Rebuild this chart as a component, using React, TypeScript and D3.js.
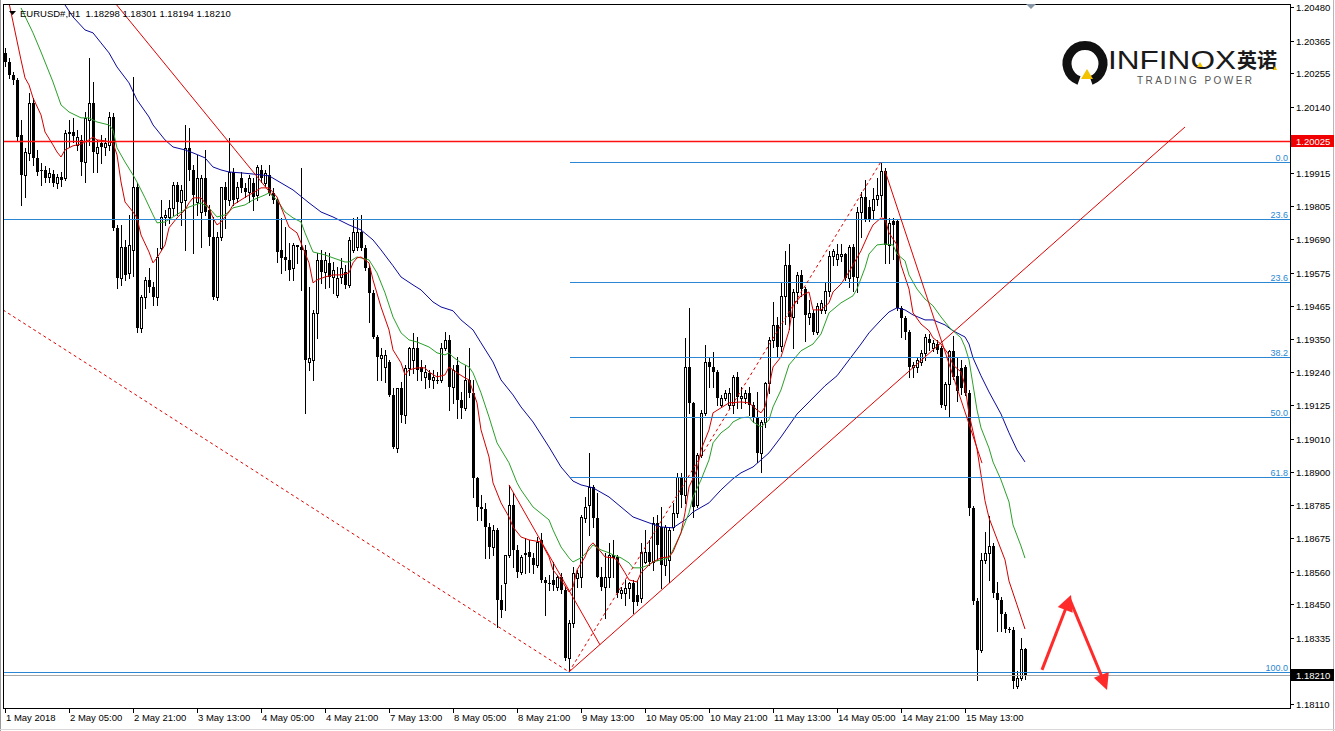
import { scaleLinear, line } from 'd3';

const W = 1335;
const H = 731;
const FONT = "'Liberation Sans', Arial, sans-serif";

// hourly bars, 1 May 13:00 .. 16 May 04:00  [open, high, low, close]
const CANDLES: [number, number, number, number][] = [
  [1.20324, 1.20341, 1.20280, 1.20293], [1.20293, 1.20307, 1.20239, 1.20249], [1.20249, 1.20259, 1.20218, 1.20232],
  [1.20232, 1.20239, 1.20028, 1.20038], [1.20045, 1.20096, 1.19807, 1.19909], [1.19909, 1.20001, 1.19834, 1.19987],
  [1.19984, 1.20188, 1.19960, 1.20154], [1.20154, 1.20171, 1.19943, 1.19967], [1.19967, 1.19994, 1.19909, 1.19919],
  [1.19926, 1.19950, 1.19875, 1.19923], [1.19926, 1.19940, 1.19885, 1.19899], [1.19902, 1.19933, 1.19885, 1.19916],
  [1.19912, 1.19926, 1.19872, 1.19882], [1.19882, 1.19912, 1.19865, 1.19902], [1.19902, 1.19919, 1.19872, 1.19892],
  [1.19899, 1.20062, 1.19892, 1.20052], [1.20052, 1.20096, 1.20004, 1.20055], [1.20055, 1.20103, 1.20021, 1.20042],
  [1.20011, 1.20062, 1.19994, 1.20038], [1.20028, 1.20045, 1.19909, 1.19953], [1.19953, 1.20123, 1.19885, 1.20103],
  [1.20096, 1.20307, 1.20011, 1.20154], [1.20154, 1.20225, 1.19919, 1.19987], [1.19984, 1.20028, 1.19919, 1.20004],
  [1.20018, 1.20045, 1.19950, 1.20004], [1.20004, 1.20035, 1.19977, 1.20018], [1.20011, 1.20123, 1.19994, 1.20106],
  [1.20106, 1.20120, 1.19722, 1.19729], [1.19729, 1.19739, 1.19525, 1.19559], [1.19559, 1.19739, 1.19535, 1.19664],
  [1.19664, 1.19688, 1.19552, 1.19569], [1.19576, 1.19773, 1.19559, 1.19671], [1.19654, 1.20242, 1.19566, 1.19868],
  [1.19868, 1.19882, 1.19375, 1.19389], [1.19389, 1.19501, 1.19375, 1.19494], [1.19494, 1.19562, 1.19457, 1.19552],
  [1.19552, 1.19593, 1.19511, 1.19528], [1.19528, 1.19545, 1.19467, 1.19494], [1.19494, 1.19661, 1.19467, 1.19630],
  [1.19661, 1.19824, 1.19654, 1.19766], [1.19766, 1.19790, 1.19739, 1.19773], [1.19766, 1.19824, 1.19746, 1.19797],
  [1.19797, 1.19885, 1.19773, 1.19875], [1.19875, 1.19885, 1.19773, 1.19817], [1.19817, 1.19875, 1.19739, 1.19858],
  [1.19824, 1.20079, 1.19654, 1.20001], [1.20001, 1.20069, 1.19892, 1.19926], [1.19926, 1.19943, 1.19644, 1.19841],
  [1.19817, 1.19977, 1.19773, 1.19899], [1.19783, 1.19909, 1.19664, 1.19899], [1.19899, 1.19994, 1.19773, 1.19783],
  [1.19790, 1.19807, 1.19671, 1.19698], [1.19698, 1.19766, 1.19487, 1.19494], [1.19494, 1.19715, 1.19484, 1.19698],
  [1.19698, 1.19868, 1.19688, 1.19868], [1.19868, 1.19885, 1.19729, 1.19824], [1.19824, 1.20035, 1.19807, 1.19919],
  [1.19919, 1.19933, 1.19807, 1.19824], [1.19831, 1.19885, 1.19817, 1.19868], [1.19899, 1.19919, 1.19851, 1.19865],
  [1.19865, 1.19882, 1.19834, 1.19851], [1.19851, 1.19909, 1.19817, 1.19899], [1.19882, 1.19899, 1.19790, 1.19834],
  [1.19841, 1.19943, 1.19824, 1.19936], [1.19926, 1.19943, 1.19885, 1.19899], [1.19882, 1.19926, 1.19872, 1.19916],
  [1.19909, 1.19943, 1.19841, 1.19848], [1.19848, 1.19865, 1.19814, 1.19824], [1.19824, 1.19831, 1.19613, 1.19647],
  [1.19654, 1.19763, 1.19576, 1.19627], [1.19630, 1.19732, 1.19586, 1.19620], [1.19620, 1.19678, 1.19552, 1.19586],
  [1.19593, 1.19678, 1.19552, 1.19671], [1.19671, 1.19671, 1.19610, 1.19664], [1.19664, 1.19933, 1.19518, 1.19654],
  [1.19654, 1.19671, 1.19100, 1.19280], [1.19273, 1.19528, 1.19246, 1.19287], [1.19280, 1.19450, 1.19212, 1.19440],
  [1.19440, 1.19644, 1.19355, 1.19620], [1.19620, 1.19654, 1.19542, 1.19579], [1.19579, 1.19647, 1.19525, 1.19620],
  [1.19610, 1.19644, 1.19528, 1.19562], [1.19562, 1.19613, 1.19508, 1.19586], [1.19501, 1.19596, 1.19494, 1.19559],
  [1.19562, 1.19627, 1.19542, 1.19593], [1.19579, 1.19603, 1.19525, 1.19535], [1.19535, 1.19698, 1.19528, 1.19688],
  [1.19654, 1.19763, 1.19647, 1.19715], [1.19664, 1.19766, 1.19654, 1.19715], [1.19715, 1.19773, 1.19654, 1.19661],
  [1.19661, 1.19671, 1.19586, 1.19593], [1.19593, 1.19603, 1.19409, 1.19508], [1.19508, 1.19518, 1.19355, 1.19358],
  [1.19358, 1.19365, 1.19212, 1.19290], [1.19287, 1.19321, 1.19212, 1.19297], [1.19256, 1.19314, 1.19205, 1.19297],
  [1.19273, 1.19280, 1.19158, 1.19161], [1.19161, 1.19185, 1.18981, 1.18984], [1.18981, 1.19185, 1.18967, 1.19185],
  [1.19185, 1.19205, 1.19069, 1.19093], [1.19093, 1.19263, 1.19066, 1.19253], [1.19253, 1.19324, 1.19229, 1.19321],
  [1.19280, 1.19372, 1.19236, 1.19321], [1.19321, 1.19358, 1.19212, 1.19246], [1.19256, 1.19280, 1.19212, 1.19239],
  [1.19222, 1.19263, 1.19185, 1.19239], [1.19236, 1.19246, 1.19188, 1.19212], [1.19212, 1.19246, 1.19185, 1.19222],
  [1.19212, 1.19239, 1.19202, 1.19209], [1.19212, 1.19338, 1.19205, 1.19321], [1.19321, 1.19375, 1.19314, 1.19348],
  [1.19348, 1.19365, 1.19110, 1.19188], [1.19188, 1.19263, 1.19134, 1.19246], [1.19263, 1.19290, 1.19083, 1.19144],
  [1.19144, 1.19171, 1.19083, 1.19117], [1.19117, 1.19263, 1.19110, 1.19212], [1.19212, 1.19321, 1.19154, 1.19168],
  [1.19168, 1.19212, 1.18814, 1.18879], [1.18879, 1.18882, 1.18736, 1.18780], [1.18780, 1.18821, 1.18736, 1.18773],
  [1.18773, 1.18794, 1.18607, 1.18712], [1.18712, 1.18726, 1.18607, 1.18644], [1.18644, 1.18719, 1.18617, 1.18702],
  [1.18702, 1.18710, 1.18372, 1.18464], [1.18464, 1.18515, 1.18406, 1.18430], [1.18522, 1.18617, 1.18430, 1.18617],
  [1.18617, 1.18855, 1.18610, 1.18787], [1.18787, 1.18828, 1.18576, 1.18634], [1.18634, 1.18651, 1.18542, 1.18559],
  [1.18559, 1.18617, 1.18552, 1.18610], [1.18624, 1.18675, 1.18556, 1.18617], [1.18627, 1.18668, 1.18559, 1.18610],
  [1.18607, 1.18624, 1.18556, 1.18583], [1.18583, 1.18678, 1.18576, 1.18661], [1.18668, 1.18692, 1.18525, 1.18532],
  [1.18532, 1.18542, 1.18413, 1.18522], [1.18522, 1.18549, 1.18498, 1.18518], [1.18532, 1.18593, 1.18498, 1.18515],
  [1.18508, 1.18549, 1.18498, 1.18542], [1.18542, 1.18556, 1.18488, 1.18498], [1.18498, 1.18508, 1.18260, 1.18267],
  [1.18267, 1.18396, 1.18222, 1.18386], [1.18386, 1.18576, 1.18372, 1.18556], [1.18539, 1.18566, 1.18508, 1.18556],
  [1.18542, 1.18753, 1.18508, 1.18746], [1.18743, 1.18814, 1.18729, 1.18780], [1.18787, 1.18964, 1.18685, 1.18848],
  [1.18848, 1.18855, 1.18712, 1.18743], [1.18743, 1.18828, 1.18542, 1.18542], [1.18542, 1.18576, 1.18498, 1.18508],
  [1.18508, 1.18624, 1.18403, 1.18542], [1.18542, 1.18658, 1.18508, 1.18617], [1.18617, 1.18668, 1.18542, 1.18607],
  [1.18610, 1.18617, 1.18474, 1.18488], [1.18488, 1.18508, 1.18471, 1.18498], [1.18488, 1.18532, 1.18447, 1.18505],
  [1.18505, 1.18525, 1.18471, 1.18522], [1.18522, 1.18532, 1.18420, 1.18457], [1.18481, 1.18532, 1.18447, 1.18457],
  [1.18471, 1.18658, 1.18457, 1.18627], [1.18593, 1.18702, 1.18590, 1.18627], [1.18627, 1.18668, 1.18583, 1.18593],
  [1.18593, 1.18746, 1.18566, 1.18726], [1.18726, 1.18753, 1.18600, 1.18651], [1.18712, 1.18780, 1.18505, 1.18583],
  [1.18583, 1.18719, 1.18549, 1.18712], [1.18600, 1.18712, 1.18525, 1.18702], [1.18712, 1.18794, 1.18702, 1.18760],
  [1.18760, 1.18896, 1.18746, 1.18882], [1.18882, 1.18896, 1.18780, 1.18821], [1.18821, 1.19355, 1.18794, 1.19256],
  [1.19256, 1.19457, 1.19100, 1.19134], [1.19134, 1.19137, 1.18746, 1.18780], [1.18787, 1.18964, 1.18780, 1.18957],
  [1.18957, 1.19110, 1.18950, 1.19100], [1.19100, 1.19331, 1.19093, 1.19273], [1.19273, 1.19287, 1.19188, 1.19256],
  [1.19256, 1.19307, 1.19188, 1.19239], [1.19239, 1.19246, 1.19127, 1.19151], [1.19127, 1.19161, 1.19120, 1.19151],
  [1.19151, 1.19178, 1.19144, 1.19168], [1.19127, 1.19185, 1.19117, 1.19168], [1.19127, 1.19229, 1.19100, 1.19222],
  [1.19222, 1.19239, 1.19117, 1.19154], [1.19151, 1.19188, 1.19117, 1.19158], [1.19151, 1.19178, 1.19134, 1.19168],
  [1.19168, 1.19188, 1.19093, 1.19127], [1.19127, 1.19137, 1.19069, 1.19086], [1.19086, 1.19171, 1.18933, 1.18964],
  [1.18964, 1.19076, 1.18899, 1.19069], [1.19069, 1.19205, 1.19052, 1.19202], [1.19202, 1.19358, 1.19168, 1.19348],
  [1.19348, 1.19477, 1.19324, 1.19399], [1.19399, 1.19426, 1.19290, 1.19324], [1.19328, 1.19542, 1.19311, 1.19498],
  [1.19498, 1.19651, 1.19402, 1.19603], [1.19603, 1.19674, 1.19385, 1.19426], [1.19426, 1.19521, 1.19321, 1.19511],
  [1.19511, 1.19579, 1.19474, 1.19569], [1.19569, 1.19586, 1.19498, 1.19521], [1.19521, 1.19528, 1.19345, 1.19433],
  [1.19426, 1.19484, 1.19402, 1.19440], [1.19440, 1.19450, 1.19368, 1.19375], [1.19375, 1.19474, 1.19368, 1.19464],
  [1.19450, 1.19484, 1.19440, 1.19474], [1.19450, 1.19545, 1.19440, 1.19515], [1.19515, 1.19651, 1.19498, 1.19634],
  [1.19634, 1.19657, 1.19603, 1.19651], [1.19623, 1.19674, 1.19603, 1.19640], [1.19634, 1.19674, 1.19617, 1.19640],
  [1.19640, 1.19644, 1.19552, 1.19559], [1.19559, 1.19671, 1.19528, 1.19664], [1.19664, 1.19674, 1.19515, 1.19562],
  [1.19562, 1.19800, 1.19511, 1.19783], [1.19783, 1.19851, 1.19698, 1.19834], [1.19834, 1.19892, 1.19753, 1.19760],
  [1.19800, 1.19824, 1.19753, 1.19760], [1.19790, 1.19865, 1.19760, 1.19827], [1.19827, 1.19899, 1.19807, 1.19841],
  [1.19841, 1.19954, 1.19770, 1.19923], [1.19923, 1.19933, 1.19610, 1.19671], [1.19671, 1.19763, 1.19610, 1.19746],
  [1.19753, 1.19763, 1.19623, 1.19739], [1.19753, 1.19759, 1.19450, 1.19457], [1.19457, 1.19464, 1.19358, 1.19423],
  [1.19423, 1.19430, 1.19351, 1.19375], [1.19375, 1.19382, 1.19222, 1.19256], [1.19256, 1.19273, 1.19222, 1.19263],
  [1.19256, 1.19287, 1.19239, 1.19280], [1.19273, 1.19314, 1.19263, 1.19304], [1.19304, 1.19368, 1.19280, 1.19358],
  [1.19351, 1.19368, 1.19314, 1.19338], [1.19321, 1.19348, 1.19311, 1.19338], [1.19334, 1.19348, 1.19304, 1.19314],
  [1.19321, 1.19328, 1.19120, 1.19127], [1.19127, 1.19205, 1.19113, 1.19198], [1.19198, 1.19314, 1.19090, 1.19311],
  [1.19311, 1.19362, 1.19215, 1.19222], [1.19226, 1.19287, 1.19141, 1.19175], [1.19253, 1.19280, 1.19164, 1.19185],
  [1.19256, 1.19263, 1.19161, 1.19168], [1.19168, 1.19178, 1.18753, 1.18777], [1.18777, 1.18784, 1.18450, 1.18461],
  [1.18461, 1.18471, 1.18192, 1.18294], [1.18294, 1.18624, 1.18287, 1.18600], [1.18600, 1.18695, 1.18590, 1.18624],
  [1.18624, 1.18750, 1.18532, 1.18648], [1.18648, 1.18658, 1.18474, 1.18488], [1.18488, 1.18525, 1.18359, 1.18464],
  [1.18464, 1.18474, 1.18359, 1.18416], [1.18416, 1.18423, 1.18355, 1.18365], [1.18365, 1.18372, 1.18355, 1.18362],
  [1.18362, 1.18372, 1.18165, 1.18189], [1.18172, 1.18223, 1.18165, 1.18199], [1.18199, 1.18335, 1.18192, 1.18297],
  [1.18298, 1.18301, 1.18194, 1.18210],
];

// moving averages: [bar, price]
const MA_RED: [number, number][] = [
  [1, 1.20494], [4, 1.20300], [5, 1.20239], [6, 1.20215], [7, 1.20171], [9, 1.20113], [10, 1.20055], [12, 1.20011],
  [13, 1.19987], [14, 1.19970], [15, 1.19994], [17, 1.20008], [19, 1.20014], [21, 1.20028], [22, 1.20038], [23, 1.20028],
  [25, 1.20025], [27, 1.20018], [28, 1.19977], [29, 1.19885], [30, 1.19817], [32, 1.19783], [33, 1.19763], [34, 1.19705],
  [36, 1.19647], [37, 1.19610], [38, 1.19627], [40, 1.19671], [41, 1.19729], [43, 1.19763], [45, 1.19790], [46, 1.19814],
  [47, 1.19831], [49, 1.19831], [51, 1.19797], [52, 1.19763], [53, 1.19739], [54, 1.19749], [56, 1.19783], [57, 1.19807],
  [59, 1.19824], [61, 1.19841], [62, 1.19848], [64, 1.19865], [66, 1.19865], [68, 1.19834], [70, 1.19766], [71, 1.19732],
  [73, 1.19712], [74, 1.19678], [76, 1.19610], [77, 1.19542], [78, 1.19552], [80, 1.19562], [82, 1.19569], [84, 1.19569],
  [86, 1.19576], [87, 1.19610], [88, 1.19627], [89, 1.19630], [91, 1.19610], [92, 1.19552], [94, 1.19460], [96, 1.19382],
  [97, 1.19314], [99, 1.19270], [100, 1.19229], [101, 1.19246], [103, 1.19253], [105, 1.19253], [106, 1.19239],
  [108, 1.19222], [110, 1.19229], [111, 1.19256], [112, 1.19246], [113, 1.19236], [115, 1.19219], [116, 1.19212],
  [118, 1.19134], [119, 1.19042], [121, 1.18950], [122, 1.18862], [124, 1.18794], [126, 1.18746], [127, 1.18712],
  [129, 1.18678], [131, 1.18668], [134, 1.18661], [136, 1.18610], [137, 1.18566], [139, 1.18532], [141, 1.18491],
  [142, 1.18508], [143, 1.18566], [145, 1.18610], [146, 1.18644], [147, 1.18658], [149, 1.18627], [150, 1.18610],
  [152, 1.18607], [153, 1.18600], [155, 1.18556], [156, 1.18532], [158, 1.18525], [159, 1.18556], [161, 1.18583],
  [162, 1.18593], [164, 1.18607], [166, 1.18610], [167, 1.18627], [169, 1.18692], [170, 1.18760], [171, 1.18848],
  [173, 1.18906], [174, 1.18974], [176, 1.19042], [177, 1.19100], [179, 1.19117], [181, 1.19134], [184, 1.19137],
  [186, 1.19134], [188, 1.19110], [189, 1.19100], [190, 1.19120], [191, 1.19188], [192, 1.19256], [194, 1.19290],
  [196, 1.19379], [197, 1.19464], [199, 1.19498], [201, 1.19511], [202, 1.19450], [204, 1.19450], [206, 1.19474],
  [207, 1.19511], [209, 1.19538], [211, 1.19579], [212, 1.19603], [214, 1.19651], [216, 1.19712], [217, 1.19739],
  [219, 1.19763], [220, 1.19759], [221, 1.19712], [223, 1.19671], [224, 1.19603], [226, 1.19521], [227, 1.19440],
  [229, 1.19402], [231, 1.19379], [232, 1.19355], [234, 1.19334], [236, 1.19297], [237, 1.19263], [239, 1.19239],
  [240, 1.19192], [241, 1.19096], [243, 1.18977], [245, 1.18801], [246, 1.18743], [248, 1.18671], [250, 1.18600],
  [251, 1.18528], [253, 1.18447], [255, 1.18365],
];

const MA_GREEN: [number, number][] = [
  [4, 1.20477], [7, 1.20392], [9, 1.20327], [12, 1.20225], [14, 1.20147], [16, 1.20123], [19, 1.20103], [21, 1.20103],
  [23, 1.20089], [26, 1.20079], [27, 1.20062], [28, 1.20001], [30, 1.19953], [32, 1.19909], [33, 1.19885], [35, 1.19831],
  [37, 1.19773], [38, 1.19746], [40, 1.19749], [42, 1.19766], [44, 1.19783], [46, 1.19800], [49, 1.19814], [51, 1.19797],
  [53, 1.19766], [55, 1.19773], [57, 1.19797], [60, 1.19807], [62, 1.19824], [65, 1.19841], [66, 1.19848], [68, 1.19824],
  [70, 1.19783], [72, 1.19763], [74, 1.19749], [75, 1.19712], [77, 1.19647], [80, 1.19637], [82, 1.19627], [85, 1.19613],
  [86, 1.19613], [88, 1.19630], [91, 1.19620], [93, 1.19576], [95, 1.19508], [97, 1.19426], [99, 1.19372], [101, 1.19348],
  [103, 1.19341], [106, 1.19324], [108, 1.19304], [110, 1.19297], [111, 1.19304], [112, 1.19290], [114, 1.19270],
  [116, 1.19256], [117, 1.19236], [119, 1.19168], [121, 1.19086], [123, 1.18998], [126, 1.18930], [128, 1.18862],
  [129, 1.18838], [132, 1.18780], [136, 1.18736], [137, 1.18702], [139, 1.18644], [141, 1.18607], [142, 1.18593],
  [144, 1.18607], [146, 1.18634], [147, 1.18651], [149, 1.18634], [151, 1.18624], [152, 1.18617], [154, 1.18607],
  [156, 1.18590], [157, 1.18573], [159, 1.18573], [161, 1.18583], [162, 1.18593], [164, 1.18600], [166, 1.18607],
  [167, 1.18634], [169, 1.18692], [171, 1.18760], [172, 1.18814], [174, 1.18872], [176, 1.18940], [177, 1.18998],
  [179, 1.19032], [181, 1.19052], [182, 1.19069], [184, 1.19083], [186, 1.19086], [187, 1.19069], [189, 1.19052],
  [191, 1.19076], [192, 1.19120], [194, 1.19178], [196, 1.19263], [199, 1.19311], [202, 1.19334], [204, 1.19368],
  [206, 1.19440], [209, 1.19474], [212, 1.19498], [213, 1.19521], [215, 1.19593], [216, 1.19640], [218, 1.19671],
  [220, 1.19674], [222, 1.19671], [223, 1.19640], [225, 1.19617], [226, 1.19569], [228, 1.19521], [230, 1.19487],
  [232, 1.19464], [234, 1.19426], [236, 1.19392], [237, 1.19379], [239, 1.19355], [240, 1.19324], [241, 1.19280],
  [242, 1.19195], [243, 1.19110], [244, 1.19049], [246, 1.18980], [247, 1.18933], [249, 1.18872], [251, 1.18797],
  [252, 1.18719], [254, 1.18647], [255, 1.18606],
];

const MA_BLUE: [number, number][] = [
  [15, 1.20487], [17, 1.20446], [20, 1.20402], [22, 1.20392], [24, 1.20358], [26, 1.20324], [28, 1.20276], [31, 1.20222],
  [33, 1.20164], [36, 1.20106], [37, 1.20079], [40, 1.20028], [42, 1.20004], [45, 1.19994], [47, 1.19984], [50, 1.19967],
  [52, 1.19936], [54, 1.19926], [56, 1.19919], [59, 1.19916], [62, 1.19912], [64, 1.19909], [66, 1.19906], [69, 1.19882],
  [72, 1.19858], [76, 1.19814], [79, 1.19783], [82, 1.19766], [86, 1.19739], [89, 1.19722], [92, 1.19688], [94, 1.19654],
  [97, 1.19600], [99, 1.19562], [102, 1.19535], [104, 1.19518], [107, 1.19477], [109, 1.19460], [112, 1.19447],
  [114, 1.19416], [117, 1.19382], [119, 1.19338], [122, 1.19273], [124, 1.19212], [127, 1.19161], [129, 1.19120],
  [132, 1.19069], [136, 1.18984], [139, 1.18916], [142, 1.18868], [144, 1.18855], [147, 1.18845], [151, 1.18814],
  [154, 1.18780], [157, 1.18746], [161, 1.18726], [164, 1.18712], [167, 1.18709], [170, 1.18736], [172, 1.18763],
  [176, 1.18794], [179, 1.18838], [182, 1.18876], [184, 1.18896], [187, 1.18916], [191, 1.18964], [194, 1.19018],
  [198, 1.19096], [201, 1.19137], [205, 1.19192], [208, 1.19226], [211, 1.19280], [214, 1.19334], [216, 1.19372],
  [219, 1.19416], [221, 1.19443], [223, 1.19457], [225, 1.19450], [227, 1.19433], [230, 1.19416], [232, 1.19416],
  [235, 1.19399], [237, 1.19379], [240, 1.19358], [241, 1.19334], [242, 1.19287], [244, 1.19226], [246, 1.19171],
  [249, 1.19096], [251, 1.19032], [253, 1.18974], [255, 1.18933],
];

// drawn objects: [bar, price] anchors
const TRENDLINES: { a: [number, number]; b: [number, number]; dashed: boolean }[] = [
  { a: [27.5, 1.20494], b: [66.75, 1.19841], dashed: false },
  { a: [126, 1.18855], b: [148.75, 1.18311], dashed: false },
  { a: [-0.5, 1.19450], b: [141, 1.18219], dashed: true },
  { a: [141, 1.18219], b: [295, 1.20072], dashed: false },
  { a: [141, 1.18219], b: [219, 1.19954], dashed: true },
  { a: [220, 1.19923], b: [244.25, 1.18929], dashed: false },
];

const FIB_HIGH = 1.19954;
const FIB_LOW = 1.18219;
const FIB_START = 141.25;
const FIB_RATIOS = [0, 0.236, 0.382, 0.5, 0.618];
const FIB_LABELS = ['0.0', '23.6', '38.2', '50.0', '61.8'];

const RED_LEVEL = 1.20025;
const BID = 1.18210;
const FULL_LEVELS: [number, string][] = [[1.19759, '23.6'], [1.18219, '100.0']];

const ARROW: [number, number][] = [[259.25, 1.18226], [266.5, 1.18481], [275.5, 1.18158]];

const PRICE_TICKS = [
  1.20480, 1.20365, 1.20255, 1.20140, 1.19915, 1.19805, 1.19690, 1.19575, 1.19465, 1.19350,
  1.19240, 1.19125, 1.19010, 1.18900, 1.18785, 1.18675, 1.18560, 1.18450, 1.18335, 1.18110,
];

const TIME_TICKS: [number, string][] = [
  [0, '1 May 2018'], [16, '2 May 05:00'], [32, '2 May 21:00'], [48, '3 May 13:00'], [64, '4 May 05:00'],
  [80, '4 May 21:00'], [96, '7 May 13:00'], [112, '8 May 05:00'], [128, '8 May 21:00'], [144, '9 May 13:00'],
  [160, '10 May 05:00'], [176, '10 May 21:00'], [192, '11 May 13:00'], [208, '14 May 05:00'], [224, '14 May 21:00'],
  [240, '15 May 13:00'],
];

const HEADER = 'EURUSD#,H1  1.18298 1.18301 1.18194 1.18210';

const L = 3;
const R = 1290;
const T = 4;
const B = 708;

function arrowHead(x1: number, y1: number, x2: number, y2: number, len: number, half: number) {
  const a = Math.atan2(y2 - y1, x2 - x1);
  const bx = x2 - len * Math.cos(a);
  const by = y2 - len * Math.sin(a);
  const px = -Math.sin(a) * half;
  const py = Math.cos(a) * half;
  return `${x2},${y2} ${bx + px},${by + py} ${bx - px},${by - py}`;
}

export default function App() {
  const x = scaleLinear().domain([0, 255]).range([5, 1025]);
  const y = scaleLinear().domain([1.1811, 1.2048]).range([704, 7]);
  const maLine = line<[number, number]>()
    .x(d => x(d[0]))
    .y(d => y(d[1]));
  const hy = (p: number) => Math.round(y(p)) + 0.5;

  const arrowPts = ARROW.map(([t, p]) => [x(t), y(p)] as [number, number]);
  const [a0, a1, a2] = arrowPts;
  const shorten = (p: [number, number], q: [number, number], d: number): [number, number] => {
    const len = Math.hypot(q[0] - p[0], q[1] - p[1]);
    return [q[0] - ((q[0] - p[0]) / len) * d, q[1] - ((q[1] - p[1]) / len) * d];
  };
  const a1s = shorten(a0, a1, 10);
  const a2s = shorten(a1, a2, 10);

  return (
    <svg
      width={W}
      height={H}
      style={{ position: 'absolute', left: 0, top: 0, background: '#fff' }}
      fontFamily={FONT}
    >
      <defs>
        <clipPath id="plot">
          <rect x={L + 1} y={T + 1} width={R - L - 1} height={B - T - 1} />
        </clipPath>
      </defs>
      <rect width={W} height={H} fill="#fff" />

      {/* logo */}
      <g>
        <path
          d="M 1079 80.5 A 18 18 0 1 1 1091 80.5"
          fill="none"
          stroke="#111"
          strokeWidth={9}
        />
        <polygon points="1087,69 1081,79 1093,79" fill="#f3c300" />
        <text x={1108} y={69} fontSize={25} fontFamily={FONT} fill="#1a1a1a"
          textLength={128} lengthAdjust="spacingAndGlyphs">INFINOX</text>
        <polygon points="1200,62 1197,67 1203,67" fill="#f3c300" />
        <text x={1237} y={68} fontSize={20} fontWeight={700} fontFamily="'Noto Sans CJK SC', sans-serif"
          fill="#1a1a1a">英诺</text>
        <polygon points="1275,66 1273,70 1277,70" fill="#f3c300" />
        <text x={1137} y={84} fontSize={10} fontFamily={FONT} fill="#555"
          textLength={115} lengthAdjust="spacing">TRADING POWER</text>
      </g>

      <g clipPath="url(#plot)">
        {/* candles */}
        {CANDLES.map(([o, h, l, c], i) => {
          const cx = Math.round(x(i));
          const yo = Math.round(y(o));
          const yc = Math.round(y(c));
          const top = Math.min(yo, yc);
          const bot = Math.max(yo, yc);
          const bull = c > o;
          return (
            <g key={i} shapeRendering="crispEdges">
              <line x1={cx + 0.5} x2={cx + 0.5} y1={Math.round(y(h))} y2={Math.round(y(l)) + 1} stroke="#000" />
              {bull ? (
                <rect x={cx - 0.5} y={top + 0.5} width={2} height={Math.max(bot - top, 1)} fill="#fff" stroke="#000" />
              ) : (
                <rect x={cx - 1} y={top} width={3} height={Math.max(bot - top, 1)} fill="#000" />
              )}
            </g>
          );
        })}

        {/* moving averages */}
        <path d={maLine(MA_BLUE) ?? ''} fill="none" stroke="#0a0a9c" strokeWidth={1} />
        <path d={maLine(MA_GREEN) ?? ''} fill="none" stroke="#2aa02a" strokeWidth={1} />
        <path d={maLine(MA_RED) ?? ''} fill="none" stroke="#d40000" strokeWidth={1} />

        {/* horizontal levels */}
        <g shapeRendering="crispEdges">
          <line x1={L} x2={R} y1={hy(BID)} y2={hy(BID)} stroke="#a8a8a8" />
          {FULL_LEVELS.map(([p]) => (
            <line key={p} x1={L} x2={R} y1={hy(p)} y2={hy(p)} stroke="#2b87d3" />
          ))}
          {FIB_RATIOS.map(r => {
            const p = FIB_HIGH - r * (FIB_HIGH - FIB_LOW);
            return <line key={r} x1={x(FIB_START)} x2={R} y1={hy(p)} y2={hy(p)} stroke="#2b87d3" />;
          })}
        </g>
        <line x1={L} x2={R} y1={hy(RED_LEVEL)} y2={hy(RED_LEVEL)} stroke="#ff1010" strokeWidth={1.6} />

        {/* trend lines */}
        {TRENDLINES.map((t, i) => (
          <line
            key={i}
            x1={x(t.a[0])}
            y1={y(t.a[1])}
            x2={x(t.b[0])}
            y2={y(t.b[1])}
            stroke="#e00000"
            strokeWidth={1}
            strokeDasharray={t.dashed ? '3 3' : undefined}
          />
        ))}

        {/* forecast arrows */}
        <g stroke="#ff2a2a" strokeWidth={3} fill="none" strokeLinecap="butt">
          <line x1={a0[0]} y1={a0[1]} x2={a1s[0]} y2={a1s[1]} />
          <line x1={a1[0] - 1} y1={a1[1] + 5} x2={a2s[0]} y2={a2s[1]} />
        </g>
        <polygon points={arrowHead(a0[0], a0[1], a1[0], a1[1], 16, 8)} fill="#ff2a2a" />
        <polygon points={arrowHead(a1[0], a1[1], a2[0], a2[1], 16, 8)} fill="#ff2a2a" />
      </g>

      {/* fib labels */}
      <g fontSize={9} fill="#2b87d3" textAnchor="end">
        {FULL_LEVELS.map(([p, lbl]) => (
          <text key={p} x={R - 2} y={hy(p) - 2}>{lbl}</text>
        ))}
        {FIB_RATIOS.map((r, i) => {
          const p = FIB_HIGH - r * (FIB_HIGH - FIB_LOW);
          return <text key={r} x={R - 2} y={hy(p) - 2}>{FIB_LABELS[i]}</text>;
        })}
      </g>

      {/* frame */}
      <g stroke="#000" shapeRendering="crispEdges">
        <line x1={L + 0.5} x2={L + 0.5} y1={T} y2={B + 1} />
        <line x1={L} x2={R + 1} y1={T + 0.5} y2={T + 0.5} />
        <line x1={R + 0.5} x2={R + 0.5} y1={T} y2={B + 1} />
        <line x1={L} x2={R + 1} y1={B + 0.5} y2={B + 0.5} />
      </g>
      <line x1={0.5} x2={0.5} y1={0} y2={H} stroke="#9a9a9a" shapeRendering="crispEdges" />
      <line x1={1333.5} x2={1333.5} y1={0} y2={H} stroke="#b8b8b8" shapeRendering="crispEdges" />
      <line x1={0} x2={W} y1={729.5} y2={729.5} stroke="#d8d8d8" shapeRendering="crispEdges" />

      {/* shift marker */}
      <polygon points="1026,4 1036,4 1031,9" fill="#8796a6" />

      {/* price axis */}
      <g fontSize={9.5} fill="#000">
        {PRICE_TICKS.map(p => (
          <g key={p}>
            <line x1={R + 1} x2={R + 4} y1={hy(p)} y2={hy(p)} stroke="#000" shapeRendering="crispEdges" />
            <text x={R + 6} y={Math.round(y(p)) + 3.5}>{p.toFixed(5)}</text>
          </g>
        ))}
        <rect x={R + 1} y={Math.round(y(RED_LEVEL)) - 6} width={43} height={12} fill="#f00000" />
        <text x={R + 6} y={Math.round(y(RED_LEVEL)) + 3.5} fill="#fff">{RED_LEVEL.toFixed(5)}</text>
        <rect x={R + 1} y={Math.round(y(BID)) - 6} width={43} height={12} fill="#000" />
        <text x={R + 6} y={Math.round(y(BID)) + 3.5} fill="#fff">{BID.toFixed(5)}</text>
      </g>

      {/* time axis */}
      <g fontSize={9.5} fill="#000">
        {TIME_TICKS.map(([i, lbl]) => (
          <g key={i}>
            <line x1={Math.round(x(i)) + 0.5} x2={Math.round(x(i)) + 0.5} y1={B + 1} y2={B + 5} stroke="#000" shapeRendering="crispEdges" />
            <text x={Math.round(x(i)) + 1} y={721}>{lbl}</text>
          </g>
        ))}
      </g>

      {/* header */}
      <polygon points="9,11 16,11 12.5,15" fill="#000" />
      <text x={20} y={17} fontSize={9.5} fill="#000" style={{ whiteSpace: 'pre' }}>{HEADER}</text>
    </svg>
  );
}
